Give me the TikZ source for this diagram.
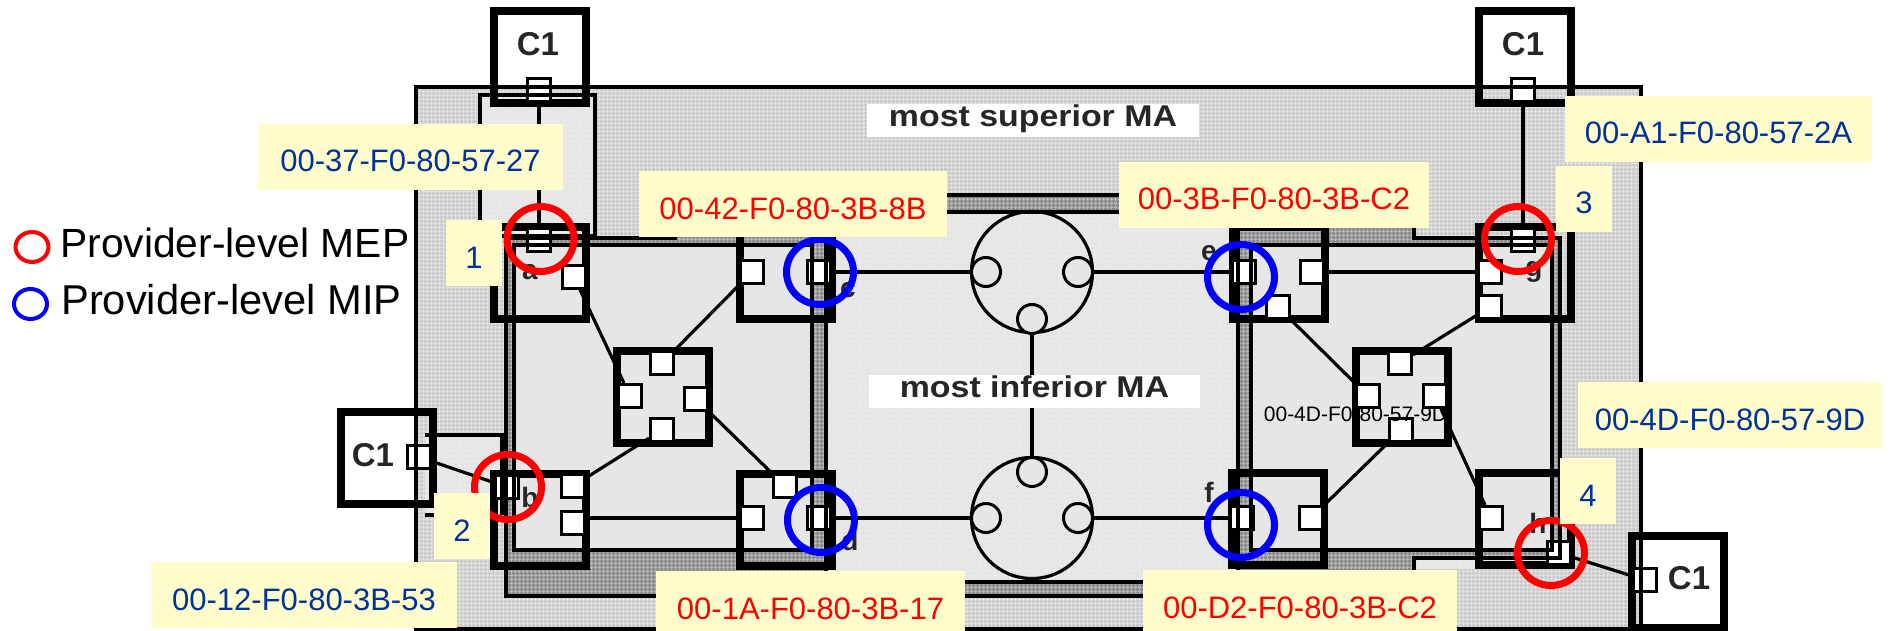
\documentclass[tikz,border=0pt]{standalone}
\usepackage{fontspec}
\setmainfont{Liberation Sans}
\usetikzlibrary{arrows.meta,positioning,calc,backgrounds,patterns.meta,shapes.geometric}
\definecolor{outergrey}{RGB}{204,204,204}
\definecolor{outerline}{RGB}{228,228,228}
\definecolor{darkgrey}{RGB}{140,140,140}
\definecolor{darkline}{RGB}{190,190,190}
\definecolor{lightgrey}{RGB}{230,230,230}
\definecolor{macyellow}{RGB}{255,253,204}
\definecolor{macblue}{RGB}{0,51,153}
\definecolor{macred}{RGB}{255,0,0}
\newcommand{\fpx}[1]{\fontsize{#1}{#1}\selectfont}

\begin{document}
\begin{tikzpicture}[x=1pt, y=-1pt,
  outerfill/.style={fill=outergrey, postaction={pattern={Hatch[distance=4pt,angle=0,line width=1.2pt]}, pattern color=outerline}},
  darkfill/.style={fill=darkgrey, postaction={pattern={Hatch[distance=4pt,angle=0,line width=1.2pt]}, pattern color=darkline}},
  lightfill/.style={fill=lightgrey, postaction={pattern={Dots[distance=5pt,radius=0.7pt]}, pattern color=white}},
  bridge/.style={draw=black, line width=8pt, minimum size=92pt, inner sep=0pt},
  port/.style={draw=black, fill=white, line width=3pt, minimum width=23pt, minimum height=23pt, inner sep=0pt},
  bigcirc/.style={circle, draw=black, line width=3.2pt, minimum size=121pt, inner sep=0pt},
  smallcirc/.style={circle, draw=black, fill=lightgrey, line width=3pt, minimum size=29pt, inner sep=0pt},
  flow/.style={black, line width=3.2pt},
  edge/.style={black, line width=3.4pt},
  macbox/.style={fill=macyellow, text=#1, inner sep=0pt, minimum height=66pt, font=\fpx{31}, text height=30pt, text depth=0pt},
  tag/.style={macbox=macblue, minimum width=56pt},
  mep/.style={ellipse, draw=macred, line width=7pt, minimum width=67pt, minimum height=65pt, inner sep=0pt},
  mip/.style={ellipse, draw=blue, line width=7pt, minimum width=67pt, minimum height=65pt, inner sep=0pt},
  letter/.style={font=\bfseries\fpx{28}, inner sep=0pt, text=black!85},
  cust/.style={font=\bfseries\fpx{33}, inner sep=0pt, text=black!85},
  malabel/.style={fill=white, inner sep=0pt, minimum height=33pt, text height=13pt, text depth=0pt,
                  font=\bfseries\fpx{30}\addfontfeature{FakeStretch=1.13}, text=black!85}]
\useasboundingbox (0,0) rectangle (1892,631);
\begin{scope}[on background layer]
  \fill[white] (0,0) rectangle (1892,631);
  \path[outerfill] (416,87) rectangle (1641,629);
  \path[lightfill] (480,95) rectangle (595,236);
  \path[lightfill] (425,435) rectangle (502,515);
  \path[darkfill] (506,238) -- (675,238) -- (675,195) -- (1414,195) -- (1414,238) -- (1560,238)
    -- (1560,558) -- (1414,558) -- (1414,596) -- (506,596) -- cycle;
  \path[lightfill] (1414,558) rectangle (1552,569);
  \path[lightfill] (826,212) rectangle (1238,582);
  \fill[lightgrey] (514,245) rectangle (812,550);
  \fill[lightgrey] (1251,245) rectangle (1552,550);
\end{scope}
% bridges and customer boxes
\node[bridge] (cltop) at (540,57.5) {};
\node[bridge] (crtop) at (1525,57.5) {};
\node[bridge] (clleft) at (386.5,458) {};
\node[bridge] (crbot) at (1678,582) {};
\node[bridge] (ba) at (540,273) {};
\node[bridge] (bb) at (540,519.5) {};
\node[bridge] (bc) at (786,273) {};
\node[bridge] (bd) at (786,519.5) {};
\node[bridge] (be) at (1278.5,273) {};
\node[bridge] (bf) at (1278,519) {};
\node[bridge] (bg) at (1525,273) {};
\node[bridge] (bh) at (1524.5,519) {};
\node[bridge] (rl) at (663,397) {};
\node[bridge] (rr) at (1401.5,397) {};
% ports
\node[port] (pcltop) at (539,90) {};
\node[port] (pcrtop) at (1523,90) {};
\node[port] (pclleft) at (419,457) {};
\node[port] (pcrbot) at (1645,580) {};
\node[port] (paT) at (539,240) {};
\node[port] (paR) at (574,277) {};
\node[port] (pbL) at (507,487) {};
\node[port] (pbU) at (573,486) {};
\node[port] (pbD) at (573,523) {};
\node[port] (pcL) at (752,272) {};
\node[port] (pcR) at (819,272) {};
\node[port] (pdT) at (785,486) {};
\node[port] (pdL) at (752,518) {};
\node[port] (pdR) at (819,518) {};
\node[port] (peL) at (1244,272) {};
\node[port] (peR) at (1312,272) {};
\node[port] (peB) at (1278,307) {};
\node[port] (pfL) at (1242,518) {};
\node[port] (pfR) at (1311,518) {};
\node[port] (pgT) at (1523,240) {};
\node[port] (pgU) at (1490,272) {};
\node[port] (pgD) at (1490,307) {};
\node[port] (phL) at (1491,518) {};
\node[port] (phC) at (1559,553) {};
\node[port] (rlT) at (662,363) {};
\node[port] (rlL) at (630,396) {};
\node[port] (rlR) at (696,399) {};
\node[port] (rlB) at (662,430) {};
\node[port] (rrT) at (1400,363) {};
\node[port] (rrL) at (1368,396) {};
\node[port] (rrR) at (1435,396) {};
\node[port] (rrB) at (1401,430) {};
% center rings
\node[bigcirc] (ringtop) at (1032,272) {};
\node[bigcirc] (ringbot) at (1032,518) {};
\node[smallcirc] (tL) at (986,272) {};
\node[smallcirc] (tR) at (1078,272) {};
\node[smallcirc] (tB) at (1032,319) {};
\node[smallcirc] (bL) at (986,518) {};
\node[smallcirc] (bR) at (1078,518) {};
\node[smallcirc] (bT) at (1032,472) {};
% links
\begin{scope}[on background layer]
  \draw[flow] (pcltop) -- (paT);
  \draw[flow] (pcrtop) -- (pgT);
  \draw[flow] (pclleft) -- (pbL);
  \draw[flow] (pcrbot) -- (phC);
  \draw[flow] (paR) -- (rlL);
  \draw[flow] (pcL) -- (rlT);
  \draw[flow] (pbU) -- (rlB);
  \draw[flow] (pdT) -- (rlR);
  \draw[flow] (pbD |- pdL) -- (pdL);
  \draw[flow] (pcR) -- (tL);
  \draw[flow] (tR) -- (peL);
  \draw[flow] (pdR) -- (bL);
  \draw[flow] (bR) -- (pfL);
  \draw[flow] (tB) -- (bT);
  \draw[flow] (peR) -- (pgU);
  \draw[flow] (peB) -- (rrL);
  \draw[flow] (pgD) -- (rrT);
  \draw[flow] (pfR) -- (rrB);
  \draw[flow] (phL) -- (rrR);
\end{scope}
% domain outlines
\draw[edge] (416,87) rectangle (1641,629);
\draw[edge] (480,95) rectangle (595,236);
\draw[edge] (425,435) -- (502,435) -- (502,515);
\draw[edge] (425,515) -- (436,515);
\draw[edge] (506,238) -- (675,238) -- (675,195) -- (1414,195) -- (1414,238) -- (1560,238)
    -- (1560,558) -- (1414,558) -- (1414,596) -- (506,596) -- cycle;
\draw[edge] (675,212) -- (1414,212);
\draw[edge] (514,245) rectangle (812,550);
\draw[edge] (1251,245) rectangle (1552,550);
\draw[edge] (826,582) -- (1238,582);
\draw[edge] (826,212) -- (826,582);
\draw[edge] (1238,212) -- (1238,582);
% texts
\node[cust] (tcltop) at (538,44) {C1};
\node[cust] (tcrtop) at (1523,44) {C1};
\node[cust] (tclleft) at (373,455) {C1};
\node[cust] (tcrbot) at (1689,578) {C1};
\node[letter] (la) at (530,272) {a};
\node[letter] (lb) at (530,497) {b};
\node[letter] (lc) at (848,290) {c};
\node[letter] (ld) at (850,540) {d};
\node[letter] (le) at (1209,253) {e};
\node[letter] (lf) at (1209,492) {f};
\node[letter] (lg) at (1534,272) {g};
\node[letter] (lh) at (1538,523) {h};
\node[malabel, minimum width=332pt] (masup) at (1033,120.5) {most superior MA};
\node[malabel, minimum width=331pt] (mainf) at (1034.5,391) {most inferior MA};
\node[font=\fpx{21}, inner sep=0pt, anchor=base] (mac4dmid) at (1355.5,421) {00-4D-F0-80-57-9D};
% legend
\node[ellipse, draw=macred, line width=4pt, minimum width=33pt, minimum height=30pt, inner sep=0pt] (legmep) at (32,247) {};
\node[ellipse, draw=blue, line width=4pt, minimum width=33pt, minimum height=30pt, inner sep=0pt] (legmip) at (30.5,304) {};
\node[font=\fpx{40.8}, inner sep=0pt, anchor=base west] (txtmep) at (60,257) {Provider-level MEP};
\node[font=\fpx{41.7}, inner sep=0pt, anchor=base west] (txtmip) at (61,314) {Provider-level MIP};
% MEP and MIP marks
\node[mep] (mepa) at (540.5,239) {};
\node[mep] (mepb) at (508,487) {};
\node[mep] (mepg) at (1518,239) {};
\node[mep] (meph) at (1551,553) {};
\node[mip] (mipc) at (820,272) {};
\node[mip] (mipd) at (821,520) {};
\node[mip] (mipe) at (1241,277) {};
\node[mip] (mipf) at (1241,525) {};
% address boxes
\node[macbox=macblue, minimum width=305pt] (mac37) at (410.5,157) {00-37-F0-80-57-27};
\node[macbox=macred, minimum width=308pt] (mac42) at (793,204) {00-42-F0-80-3B-8B};
\node[macbox=macred, minimum width=310pt] (mac3b) at (1274,195) {00-3B-F0-80-3B-C2};
\node[macbox=macblue, minimum width=307pt] (maca1) at (1718.5,129) {00-A1-F0-80-57-2A};
\node[macbox=macblue, minimum width=306pt] (mac12) at (304,595) {00-12-F0-80-3B-53};
\node[macbox=macred, minimum width=309pt] (mac1a) at (810.5,604) {00-1A-F0-80-3B-17};
\node[macbox=macred, minimum width=314pt] (macd2) at (1300,603) {00-D2-F0-80-3B-C2};
\node[macbox=macblue, minimum width=304pt] (mac4d) at (1730,415) {00-4D-F0-80-57-9D};
\node[tag] (tag1) at (474,253) {1};
\node[tag] (tag2) at (462,526) {2};
\node[tag] (tag3) at (1584,199) {3};
\node[tag] (tag4) at (1588,491) {4};
\end{tikzpicture}
\end{document}
